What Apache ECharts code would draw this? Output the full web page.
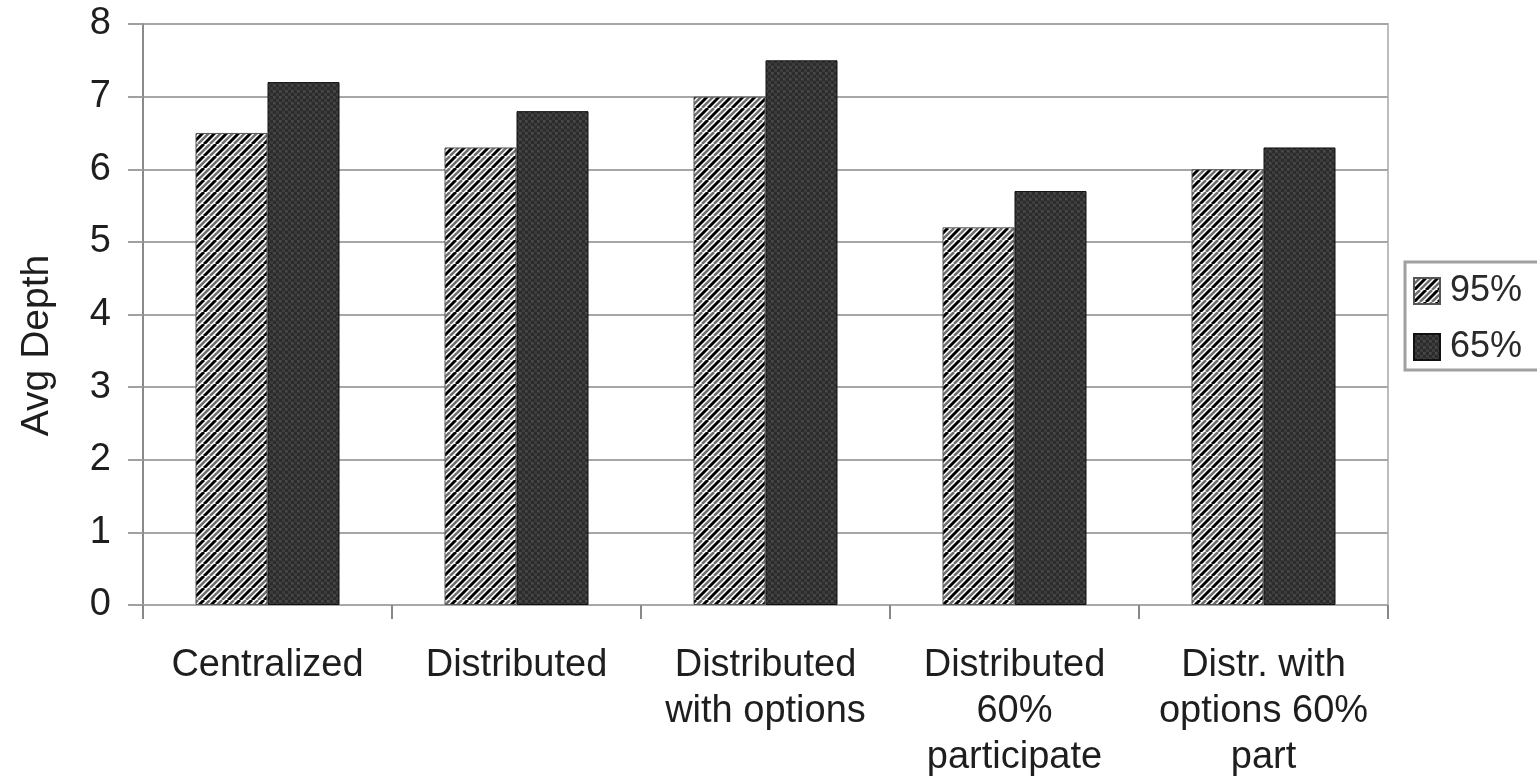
<!DOCTYPE html>
<html>
<head>
<meta charset="utf-8">
<style>
  html, body { margin: 0; padding: 0; background: #ffffff; }
  #chart { width: 1537px; height: 778px; }
</style>
<script src="https://cdn.jsdelivr.net/npm/echarts@6/dist/echarts.min.js"></script>
</head>
<body>
<div id="chart"></div>
<script>
// Average depth per scheme, for two participation thresholds
const categories = [
  'Centralized',
  'Distributed',
  'Distributed\nwith options',
  'Distributed\n60%\nparticipate',
  'Distr. with\noptions 60%\npart'
];
const seriesNames = ['95%', '65%'];
const depth95 = [6.5, 6.3, 7.0, 5.2, 6.0];
const depth65 = [7.2, 6.8, 7.5, 5.7, 6.3];
const yTicks = { min: 0, max: 8, step: 1 };

// Diagonal hatch fill ("/" stripes: black, grey, white)
function hatchPattern() {
  const c = document.createElement('canvas');
  const s = 12;
  c.width = s; c.height = s;
  const g = c.getContext('2d');
  g.fillStyle = '#ffffff';
  g.fillRect(0, 0, s, s);
  for (let k = -2; k <= 2; k++) {
    const x0 = k * s;
    g.strokeStyle = '#000000';
    g.lineWidth = 3;
    g.beginPath(); g.moveTo(x0, s); g.lineTo(x0 + s, 0); g.stroke();
    g.strokeStyle = '#6e6e6e';
    g.lineWidth = 2.5;
    g.beginPath(); g.moveTo(x0 + s / 2, s); g.lineTo(x0 + s * 1.5, 0); g.stroke();
  }
  return c;
}

// Fine-grained dark grey fill
function darkPattern() {
  const c = document.createElement('canvas');
  const s = 6;
  c.width = s; c.height = s;
  const g = c.getContext('2d');
  g.fillStyle = '#3d3d3d';
  g.fillRect(0, 0, s, s);
  g.fillStyle = '#2c2c2c';
  g.fillRect(0, 0, 3, 3);
  g.fillRect(3, 3, 3, 3);
  g.fillStyle = '#4a4a4a';
  g.fillRect(3, 0, 2, 2);
  return c;
}

const fontFamily = '"Liberation Sans", Arial, sans-serif';
const textColor = '#1e1e1e';

const chart = echarts.init(document.getElementById('chart'), null, { renderer: 'canvas' });

chart.setOption({
  backgroundColor: '#ffffff',
  animation: false,
  textStyle: { fontFamily: fontFamily, color: textColor },
  grid: {
    left: 143, right: 149, top: 24, bottom: 173,
    outerBoundsMode: 'none',
    containLabel: false,
    show: true,
    borderColor: '#bdbdbd',
    borderWidth: 2,
    backgroundColor: 'transparent'
  },
  legend: {
    data: seriesNames,
    icon: 'rect',
    orient: 'vertical',
    left: 1405,
    top: 262,
    itemWidth: 26,
    itemHeight: 26,
    itemGap: 20,
    padding: [11, 24, 5, 8],
    borderColor: '#a0a0a0',
    borderWidth: 3,
    borderRadius: 0,
    backgroundColor: '#ffffff',
    textStyle: {
      fontSize: 36, lineHeight: 26, color: '#2a2a2a', fontFamily: fontFamily,
      padding: [0, 0, 0, 5]
    }
  },
  xAxis: {
    type: 'category',
    data: categories,
    axisLine: { show: true, lineStyle: { color: '#a8a8a8', width: 2 } },
    axisTick: { show: true, alignWithLabel: false, length: 14, lineStyle: { color: '#888888', width: 2 } },
    axisLabel: {
      interval: 0,
      fontSize: 38,
      lineHeight: 46,
      margin: 38,
      color: textColor,
      fontFamily: fontFamily
    },
    splitLine: { show: false }
  },
  yAxis: {
    type: 'value',
    min: yTicks.min,
    max: yTicks.max,
    interval: yTicks.step,
    name: 'Avg Depth',
    nameLocation: 'middle',
    nameRotate: 90,
    nameGap: 86,
    nameTextStyle: { fontSize: 39, color: textColor, fontFamily: fontFamily, padding: [0, 62, 0, 0] },
    axisLine: { show: true, lineStyle: { color: '#8a8a8a', width: 2 } },
    axisTick: { show: true, inside: false, length: 15, lineStyle: { color: '#a0a0a0', width: 2 } },
    axisLabel: { fontSize: 38, margin: 32, color: textColor, fontFamily: fontFamily },
    splitLine: { show: true, lineStyle: { color: '#a6a6a6', width: 2 } }
  },
  series: [
    {
      name: seriesNames[0],
      type: 'bar',
      data: depth95,
      barWidth: 72,
      barGap: '0%',
      itemStyle: {
        color: { image: hatchPattern(), repeat: 'repeat' },
        borderColor: '#555555',
        borderWidth: 1
      }
    },
    {
      name: seriesNames[1],
      type: 'bar',
      data: depth65,
      barWidth: 72,
      barGap: '0%',
      itemStyle: {
        color: { image: darkPattern(), repeat: 'repeat' },
        borderColor: '#111111',
        borderWidth: 1
      }
    }
  ]
});
</script>
</body>
</html>
